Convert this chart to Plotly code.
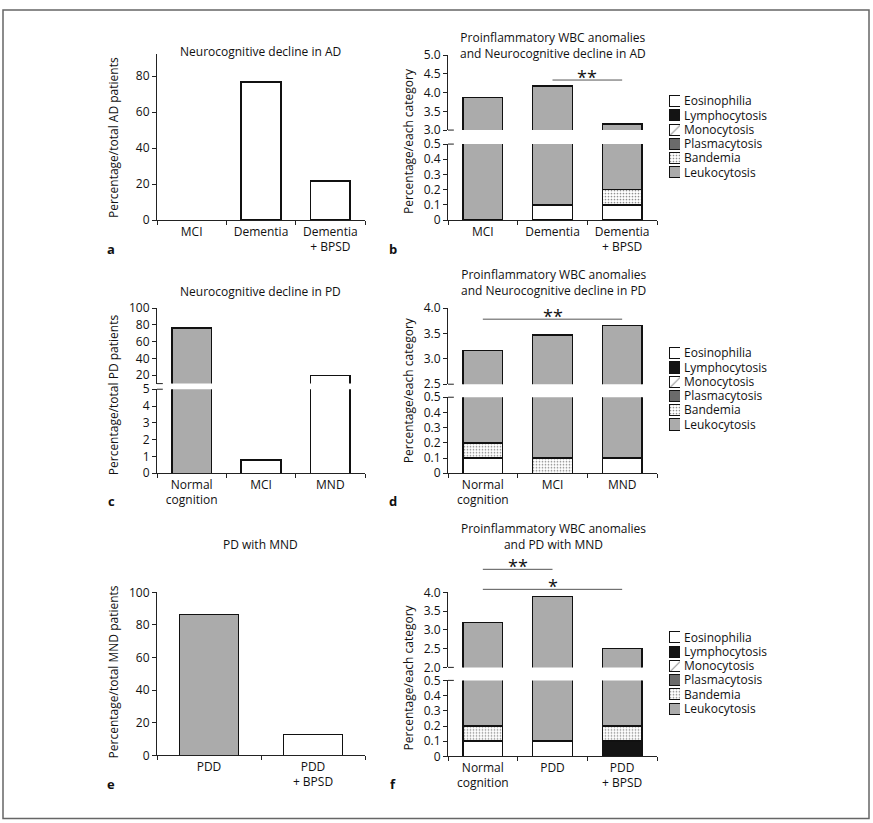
import plotly.graph_objects as go

# Vertical calibration of the photographed page (measured): screen_y = SY * fig_y + OY
SY, OY = 0.979, 8.0
W, H = 873, 832
FONT = "Open Sans"
FS = 12

# ---------------- data ----------------
ad_cats = ["MCI", "Dementia", "Dementia<br>+ BPSD"]
ad_pct = [0, 76.8, 21.8]
ad_colors = ["white", "white", "white"]

pd_cats = ["Normal<br>cognition", "MCI", "MND"]
pd_pct = [76.5, 0.8, 19.5]
pd_colors = ["#ababab", "white", "white"]

mnd_cats = ["PDD", "PDD<br>+ BPSD"]
mnd_pct = [86.5, 12.9]
mnd_colors = ["#ababab", "white"]

series = ["Eosinophilia", "Lymphocytosis", "Monocytosis", "Plasmacytosis", "Bandemia", "Leukocytosis"]

# panel b (AD)
b_cats = ["MCI", "Dementia", "Dementia<br>+ BPSD"]
b_vals = {
    "Eosinophilia": [0, 0.1, 0.1],
    "Lymphocytosis": [0, 0, 0],
    "Monocytosis": [0, 0, 0],
    "Plasmacytosis": [0, 0, 0],
    "Bandemia": [0, 0, 0.1],
    "Leukocytosis": [3.87, 4.07, 2.96],
}
# panel d (PD)
d_cats = ["Normal<br>cognition", "MCI", "MND"]
d_vals = {
    "Eosinophilia": [0.1, 0, 0.1],
    "Lymphocytosis": [0, 0, 0],
    "Monocytosis": [0, 0, 0],
    "Plasmacytosis": [0, 0, 0],
    "Bandemia": [0.1, 0.1, 0],
    "Leukocytosis": [2.97, 3.37, 3.56],
}
# panel f (PD with MND)
f_cats = ["Normal<br>cognition", "PDD", "PDD<br>+ BPSD"]
f_vals = {
    "Eosinophilia": [0.1, 0.1, 0],
    "Lymphocytosis": [0, 0, 0.1],
    "Monocytosis": [0, 0, 0],
    "Plasmacytosis": [0, 0, 0],
    "Bandemia": [0.1, 0, 0.1],
    "Leukocytosis": [3.0, 3.79, 2.3],
}

# ---------------- styles ----------------
styles = {
    "Eosinophilia": dict(color="white"),
    "Lymphocytosis": dict(color="#141414"),
    "Monocytosis": dict(color="white", pattern=dict(shape="/", fgcolor="#222", bgcolor="white", size=15, solidity=0.07)),
    "Plasmacytosis": dict(color="#6b6b6b"),
    "Bandemia": dict(color="white", pattern=dict(shape=".", fgcolor="#111", bgcolor="white", size=3, solidity=0.25)),
    "Leukocytosis": dict(color="#ababab"),
}
LC = "#111"
LW = 1.5


def px(x):
    return x / W


def py(y):
    return 1 - ((y - OY) / SY) / H


def lw(vals):
    return [LW if v else 0 for v in vals]


fig = go.Figure()

axis_common = dict(showline=True, linecolor="#222", linewidth=1, ticks="outside", ticklen=4,
                   tickcolor="#222", tickfont=dict(family=FONT, size=FS, color="#111"),
                   showgrid=False, zeroline=False, fixedrange=True)

layout = {}


def add_x(name, dom, anchor, visible=True, ncat=3, matches=None):
    d = dict(axis_common, domain=dom, anchor=anchor, type="category",
             tickson="boundaries", range=[-0.5, ncat - 0.5], visible=visible)
    if matches:
        d["matches"] = matches
    layout[name] = d


def add_y(name, dom, anchor, rng, **kw):
    d = dict(axis_common, domain=dom, anchor=anchor, range=rng)
    d.update(kw)
    layout[name] = d


XA = [px(157), px(365)]
XB = [px(448), px(657)]

# panel a
add_x("xaxis", XA, "y")
add_y("yaxis", [py(219), py(53)], "x", [0, 92.2], dtick=20, tick0=0)
fig.add_trace(go.Bar(x=ad_cats, y=ad_pct, marker=dict(color=ad_colors, line=dict(color=LC, width=lw(ad_pct))),
                     xaxis="x", yaxis="y", showlegend=False))

# panel c (broken axis)
add_x("xaxis4", XA, "y4")
add_y("yaxis4", [py(472), py(388)], "x4", [0, 5], dtick=1, tick0=0)
add_x("xaxis5", XA, "y5", visible=False, matches="x4")
add_y("yaxis5", [py(382.4), py(307)], "x5", [10, 100], tickvals=[20, 40, 60, 80, 100])
for xa, ya in (("x4", "y4"), ("x5", "y5")):
    fig.add_trace(go.Bar(x=pd_cats, y=pd_pct, marker=dict(color=pd_colors, line=dict(color=LC, width=lw(pd_pct))),
                         xaxis=xa, yaxis=ya, showlegend=False))

# panel e
add_x("xaxis8", XA, "y8", ncat=2)
add_y("yaxis8", [py(754), py(591)], "x8", [0, 100], dtick=20, tick0=0)
fig.add_trace(go.Bar(x=mnd_cats, y=mnd_pct, marker=dict(color=mnd_colors, line=dict(color=LC, width=lw(mnd_pct))),
                     xaxis="x8", yaxis="y8", showlegend=False))


def marker_for(s, vals):
    st = styles[s]
    m = dict(color=st["color"], line=dict(color=LC, width=lw(vals) if vals is not None else 1))
    if "pattern" in st:
        m["pattern"] = st["pattern"]
    return m


def stacked_panel(cats, vals, xl, yl, xu, yu):
    for xa, ya in ((xl, yl), (xu, yu)):
        for s in series:
            fig.add_trace(go.Bar(x=cats, y=vals[s], name=s, marker=marker_for(s, vals[s]),
                                 xaxis=xa, yaxis=ya, showlegend=False))


# panel b
add_x("xaxis2", XB, "y2")
add_y("yaxis2", [py(219), py(143)], "x2", [0, 0.5], dtick=0.1, tick0=0)
add_x("xaxis3", XB, "y3", visible=False, matches="x2")
add_y("yaxis3", [py(129), py(54)], "x3", [3, 5], dtick=0.5, tick0=0, tickformat=".1f")
stacked_panel(b_cats, b_vals, "x2", "y2", "x3", "y3")

# panel d
add_x("xaxis6", XB, "y6")
add_y("yaxis6", [py(472), py(396)], "x6", [0, 0.5], dtick=0.1, tick0=0)
add_x("xaxis7", XB, "y7", visible=False, matches="x6")
add_y("yaxis7", [py(383), py(307)], "x7", [2.5, 4], dtick=0.5, tick0=0, tickformat=".1f")
stacked_panel(d_cats, d_vals, "x6", "y6", "x7", "y7")

# panel f
add_x("xaxis9", XB, "y9")
add_y("yaxis9", [py(755), py(679)], "x9", [0, 0.5], dtick=0.1, tick0=0)
add_x("xaxis10", XB, "y10", visible=False, matches="x9")
add_y("yaxis10", [py(666), py(591)], "x10", [2, 4], dtick=0.5, tick0=0, tickformat=".1f")
stacked_panel(f_cats, f_vals, "x9", "y9", "x10", "y10")

# ---------------- compact legends (swatches drawn as keyed bars on small hidden axes) ----------------
legend_rows_top = [100, 352, 636]
ROW = 14.25
for k, top in enumerate(legend_rows_top):
    xn, yn = "xaxis%d" % (11 + k), "yaxis%d" % (11 + k)
    xr, yr = "x%d" % (11 + k), "y%d" % (11 + k)
    layout[xn] = dict(domain=[px(669), px(680)], anchor=yr, range=[0, 1], visible=False, fixedrange=True)
    layout[yn] = dict(domain=[py(top + 5 * ROW + ROW / 2), py(top - ROW / 2)], anchor=xr, type="category",
                      categoryorder="array", categoryarray=series[::-1], range=[-0.5, 5.5],
                      tickmode="array", tickvals=series, ticktext=series,
                      side="right", showline=False, ticks="", showgrid=False, zeroline=False,
                      ticklabelstandoff=3, fixedrange=True,
                      tickfont=dict(family=FONT, size=FS, color="#111"))
    for s in series:
        fig.add_trace(go.Bar(y=[s], x=[1], orientation="h", width=0.78, marker=marker_for(s, None),
                             xaxis=xr, yaxis=yr, showlegend=False, hoverinfo="skip"))

annotations = []


def txt(x, y, t, size=FS, bold=False, angle=0, xanchor="center"):
    annotations.append(dict(x=px(x), y=py(y), xref="paper", yref="paper", text=("<b>%s</b>" % t) if bold else t,
                            showarrow=False, textangle=angle, xanchor=xanchor, yanchor="middle",
                            font=dict(family=FONT, size=size, color="#111")))


# titles
txt(260, 50, "Neurocognitive decline in AD")
txt(553, 44, "Proinflammatory WBC anomalies<br>and Neurocognitive decline in AD")
txt(260, 290, "Neurocognitive decline in PD")
txt(553, 281.5, "Proinflammatory WBC anomalies<br>and Neurocognitive decline in PD")
txt(260, 543, "PD with MND")
txt(553, 535.5, "Proinflammatory WBC anomalies<br>and PD with MND")

# y titles
txt(113, 137, "Percentage/total AD patients", angle=-90)
txt(408, 140, "Percentage/each category", angle=-90)
txt(113, 394, "Percentage/total PD patients", angle=-90)
txt(408, 389, "Percentage/each category", angle=-90)
txt(113, 671, "Percentage/total MND patients", angle=-90)
txt(408, 676, "Percentage/each category", angle=-90)

# panel letters
for (lx, ly, l) in ((111, 248, "a"), (393, 248, "b"), (111, 500, "c"), (393, 500, "d"), (111, 783, "e"), (393, 783, "f")):
    txt(lx, ly, l, size=13, bold=True)

shapes = []


def sig(xaxis, c0, c1, ybar, label, ncat=3):
    shapes.append(dict(type="line", xref=xaxis + " domain", yref="paper",
                       x0=(c0 + 0.5) / ncat, x1=(c1 + 0.5) / ncat, y0=py(ybar), y1=py(ybar),
                       line=dict(color="#555", width=1)))
    annotations.append(dict(xref=xaxis + " domain", yref="paper", x=((c0 + c1) / 2 + 0.5) / ncat,
                            y=py(ybar - 3), text=label, showarrow=False, yanchor="middle",
                            font=dict(family=FONT, size=18, color="#111")))


sig("x2", 1, 2, 79, "**")
sig("x6", 0, 2, 318, "**")
sig("x9", 0, 1, 568, "**")
sig("x9", 0, 2, 588, "*")

# axis-break stubs
for xa, ylow, yup in (("x2", "y2", "y3"), ("x6", "y6", "y7"), ("x9", "y9", "y10"), ("x4", "y4", "y5")):
    for yr, yy in ((ylow + " domain", 1), (yup + " domain", 0)):
        shapes.append(dict(type="line", xref=xa + " domain", yref=yr, x0=0, x1=0.028, y0=yy, y1=yy,
                           line=dict(color="#222", width=1)))

# frame
shapes.append(dict(type="rect", xref="paper", yref="paper", x0=px(3), x1=px(869), y0=py(817),
                   y1=min(py(4), 1 - 0.9 / H), line=dict(color="#666", width=1.5)))

fig.update_layout(**layout)
fig.update_layout(width=W, height=H, margin=dict(l=0, r=0, t=0, b=0), barmode="stack", bargap=0.43,
                  showlegend=False,
                  plot_bgcolor="white", paper_bgcolor="white", annotations=annotations, shapes=shapes,
                  font=dict(family=FONT, size=FS, color="#111"))

fig.write_html("out.html", config={"displayModeBar": False},
               post_script="document.body.style.margin='0';document.body.style.overflow='hidden';")
